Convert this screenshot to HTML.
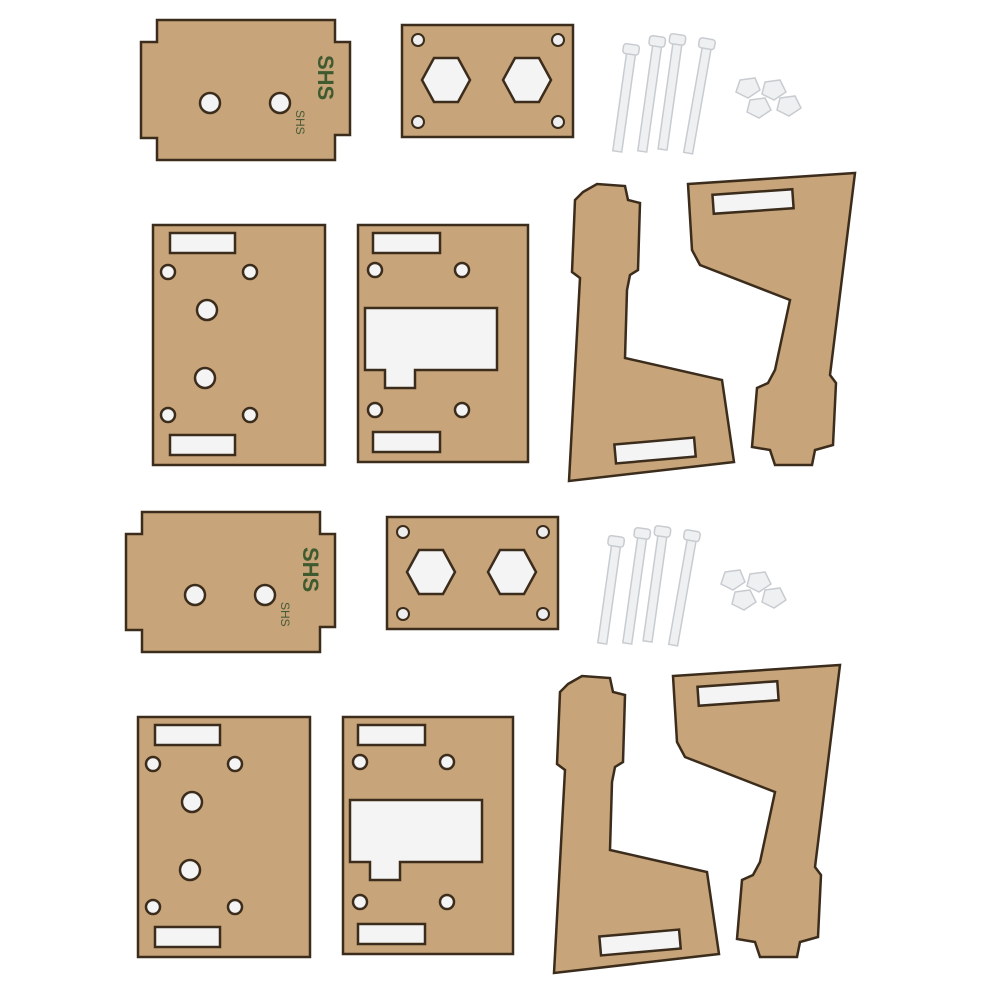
<!DOCTYPE html>
<html><head><meta charset="utf-8"><style>html,body{margin:0;padding:0;background:#fff}svg{display:block}</style></head>
<body>
<svg width="1001" height="1001" viewBox="0 0 1001 1001" xmlns="http://www.w3.org/2000/svg">
<defs>
<g id="set">
 <!-- plate A -->
 <path d="M157,20 H335 V42 H350 V135 H335 V160 H157 V138 H141 V42 H157 Z" fill="#c7a479" stroke="#3b2c1c" stroke-width="2.5"/>
 <circle cx="210" cy="103" r="10" fill="#f3f3f3" stroke="#3b2c1c" stroke-width="2.5"/>
 <circle cx="280" cy="103" r="10" fill="#f3f3f3" stroke="#3b2c1c" stroke-width="2.5"/>
 <text x="0" y="0" transform="translate(318,55) rotate(90)" font-family="Liberation Sans, sans-serif" font-size="22" font-weight="bold" fill="#3e5a2e">SHS</text>
 <text x="0" y="0" transform="translate(296,110) rotate(90)" font-family="Liberation Sans, sans-serif" font-size="12" fill="#4a5a3a">SHS</text>
 <!-- plate B -->
 <rect x="402" y="25" width="171" height="112" fill="#c7a479" stroke="#3b2c1c" stroke-width="2.5"/>
 <polygon points="434,58 458,58 470,80 458,102 434,102 422,80" fill="#f4f4f4" stroke="#3b2c1c" stroke-width="2.5"/>
 <polygon points="515,58 539,58 551,80 539,102 515,102 503,80" fill="#f4f4f4" stroke="#3b2c1c" stroke-width="2.5"/>
 <g fill="#eee" stroke="#3b2c1c" stroke-width="2"><circle cx="418" cy="40" r="6"/><circle cx="558" cy="40" r="6"/><circle cx="418" cy="122" r="6"/><circle cx="558" cy="122" r="6"/></g>
 <!-- screws -->
 <g fill="#eef0f2" stroke="#c8ccd0" stroke-width="1.5">
  <rect x="620" y="52" width="9" height="100" transform="rotate(8 625 100)"/>
  <rect x="616" y="44" width="16" height="10" rx="3" transform="rotate(8 625 100)"/>
  <rect x="645" y="44" width="9" height="108" transform="rotate(8 650 100)"/>
  <rect x="641" y="36" width="16" height="10" rx="3" transform="rotate(8 650 100)"/>
  <rect x="665" y="42" width="9" height="108" transform="rotate(8 670 100)"/>
  <rect x="661" y="34" width="16" height="10" rx="3" transform="rotate(8 670 100)"/>
  <rect x="693" y="46" width="9" height="108" transform="rotate(10 698 100)"/>
  <rect x="689" y="38" width="16" height="10" rx="3" transform="rotate(10 698 100)"/>
  <polygon points="740,80 755,78 760,90 748,98 736,92"/>
  <polygon points="765,82 780,80 786,92 774,100 762,94"/>
  <polygon points="750,100 765,98 771,110 759,118 747,112"/>
  <polygon points="780,98 795,96 801,108 789,116 777,110"/>
 </g>
 <!-- plate C -->
 <rect x="153" y="225" width="172" height="240" fill="#c7a479" stroke="#3b2c1c" stroke-width="2.5"/>
 <g fill="#f4f4f4" stroke="#3b2c1c" stroke-width="2.5">
  <rect x="170" y="233" width="65" height="20"/><rect x="170" y="435" width="65" height="20"/>
  <circle cx="168" cy="272" r="7"/><circle cx="250" cy="272" r="7"/><circle cx="168" cy="415" r="7"/><circle cx="250" cy="415" r="7"/>
  <circle cx="207" cy="310" r="10"/><circle cx="205" cy="378" r="10"/>
 </g>
 <!-- plate D -->
 <rect x="358" y="225" width="170" height="237" fill="#c7a479" stroke="#3b2c1c" stroke-width="2.5"/>
 <g fill="#f4f4f4" stroke="#3b2c1c" stroke-width="2.5">
  <rect x="373" y="233" width="67" height="20"/><rect x="373" y="432" width="67" height="20"/>
  <circle cx="375" cy="270" r="7"/><circle cx="462" cy="270" r="7"/><circle cx="375" cy="410" r="7"/><circle cx="462" cy="410" r="7"/>
  <path d="M365,308 H497 V370 H415 V388 H385 V370 H365 Z"/>
 </g>
 <!-- L piece left -->
 <path d="M583,192 L597,184 L625,186 L628,200 L640,203 L638,270 L630,275 L627,290 L625,358 L722,380 L734,462 L569,481 L580,278 L572,272 L575,200 Z" fill="#c7a479" stroke="#3b2c1c" stroke-width="2.5"/>
 <rect x="615" y="441" width="80" height="19" fill="#f4f4f4" stroke="#3b2c1c" stroke-width="2.5" transform="rotate(-5 655 450)"/>
 <!-- L piece right -->
 <path d="M688,184 L855,173 L830,375 L836,383 L833,445 L815,450 L812,465 L775,465 L770,450 L752,447 L757,388 L768,383 L775,370 L790,300 L700,265 L692,250 Z" fill="#c7a479" stroke="#3b2c1c" stroke-width="2.5"/>
 <rect x="713" y="192" width="80" height="19" fill="#f4f4f4" stroke="#3b2c1c" stroke-width="2.5" transform="rotate(-4 753 201)"/>
</g>
</defs>
<use href="#set"/>
<use href="#set" transform="translate(-15,492)"/>
</svg>
</body></html>
